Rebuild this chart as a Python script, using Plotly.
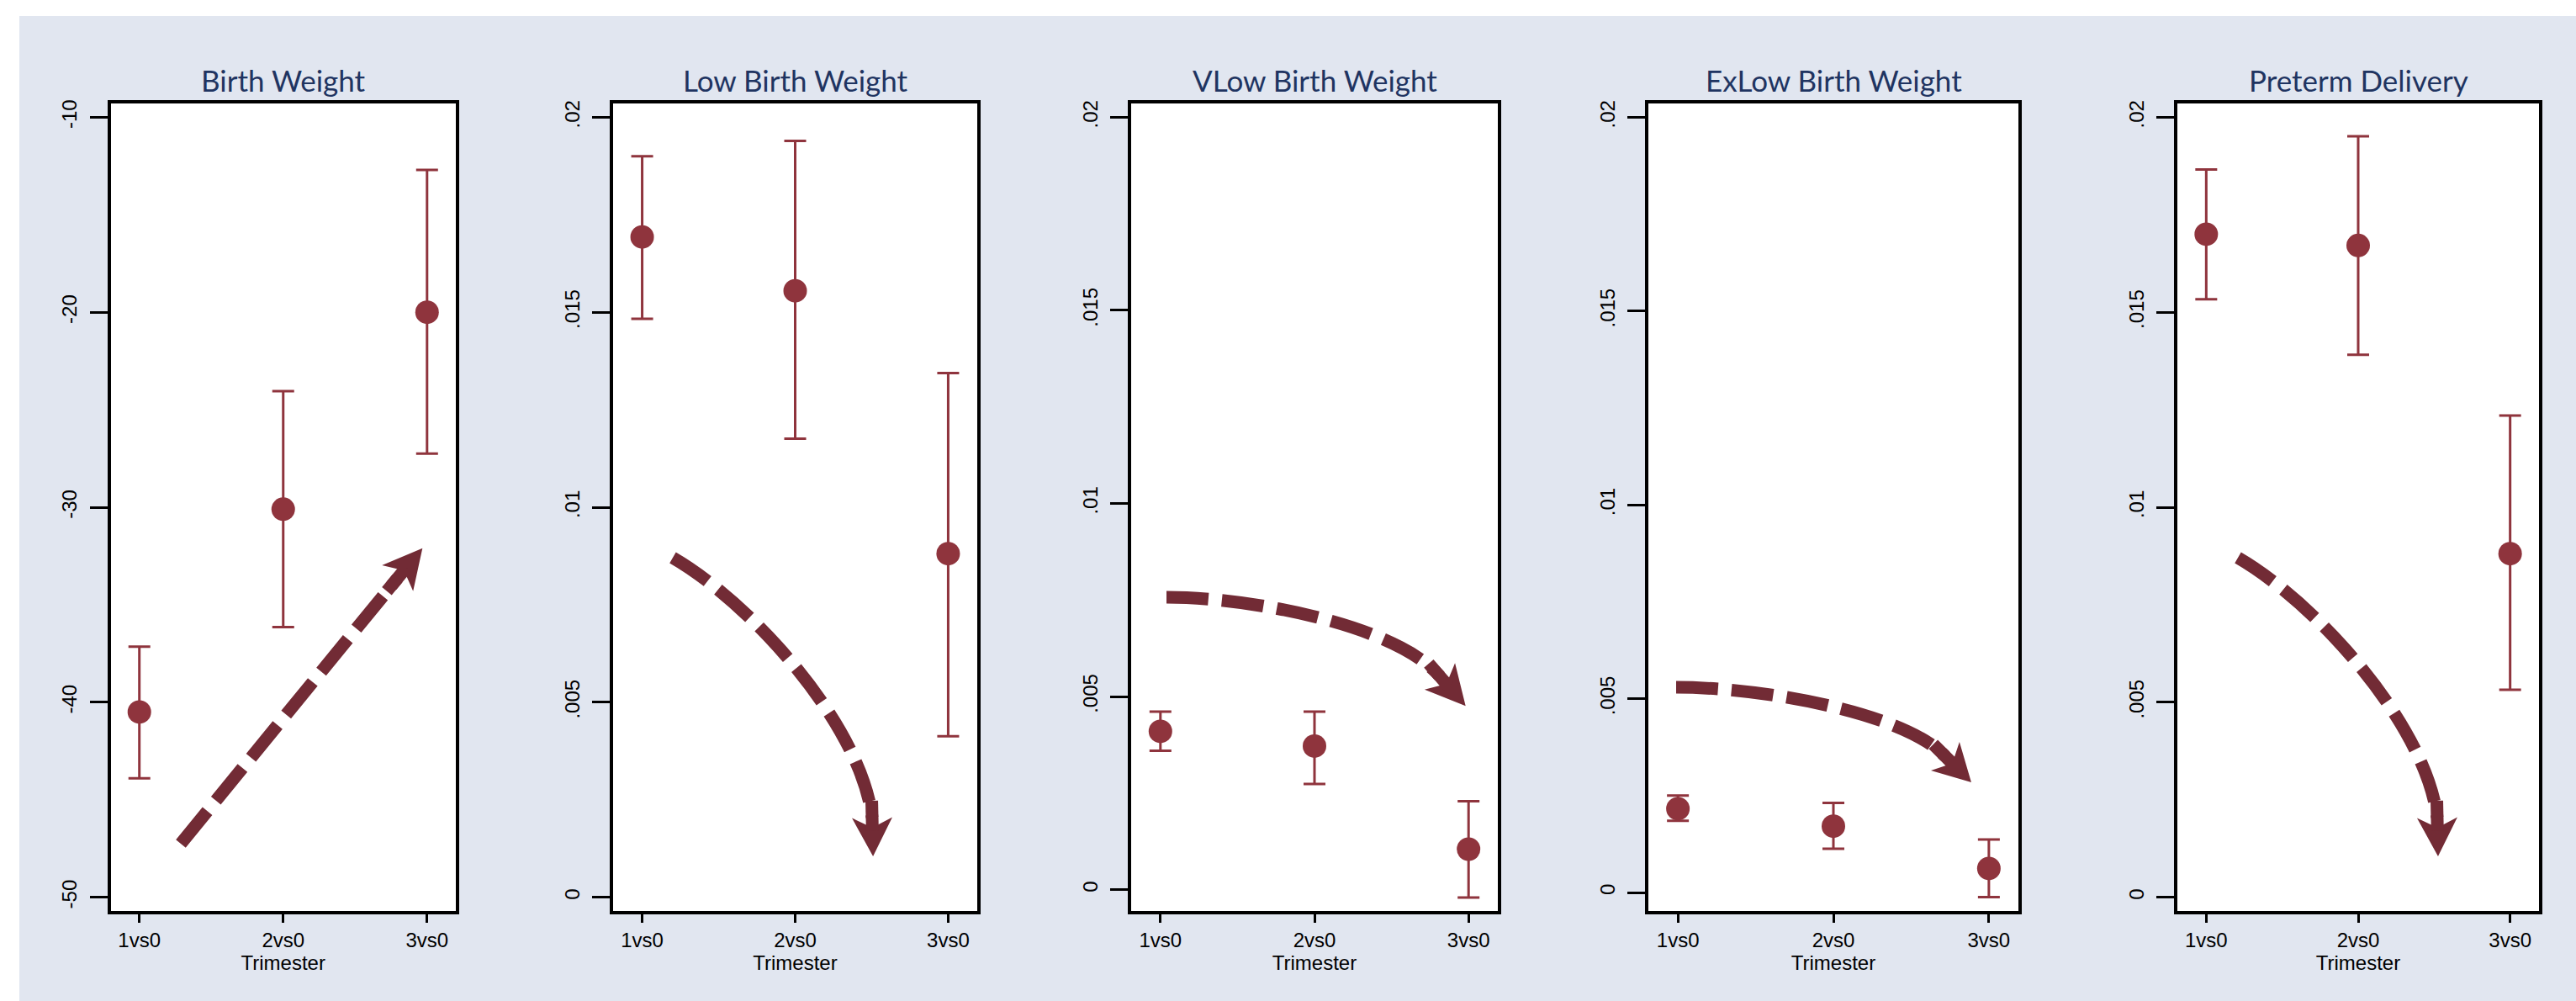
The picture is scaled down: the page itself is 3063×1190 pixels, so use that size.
import plotly.graph_objects as go

# ---------------- data ----------------
panel_titles = ["Birth Weight", "Low Birth Weight", "VLow Birth Weight",
                "ExLow Birth Weight", "Preterm Delivery"]
categories = ["1vs0", "2vs0", "3vs0"]
x_pos = [1, 2, 3]
x_title = "Trimester"

bw_est = [-40.5, -30.1, -20.0]
bw_lo = [-43.9, -36.15, -27.25]
bw_hi = [-37.15, -24.05, -12.7]

lbw_est = [0.01693, 0.01555, 0.00881]
lbw_lo = [0.01483, 0.01176, 0.00413]
lbw_hi = [0.0190, 0.01939, 0.01344]

vlbw_est = [0.0041, 0.00372, 0.00105]
vlbw_lo = [0.0036, 0.00274, -0.0002]
vlbw_hi = [0.00461, 0.00461, 0.00229]

exlbw_est = [0.00216, 0.00171, 0.00062]
exlbw_lo = [0.00185, 0.00113, -0.00012]
exlbw_hi = [0.0025, 0.00231, 0.00137]

ptd_est = [0.0170, 0.01671, 0.00881]
ptd_lo = [0.01533, 0.01391, 0.00532]
ptd_hi = [0.01866, 0.01951, 0.01235]

bw_tick_vals = [-50, -40, -30, -20, -10]
bw_tick_text = ["-50", "-40", "-30", "-20", "-10"]
rate_tick_vals = [0, 0.005, 0.01, 0.015, 0.02]
rate_tick_text = ["0", ".005", ".01", ".015", ".02"]

# trend arrows (data units of each panel): shaft points, then arrow tip
arrow_paths = [
    [(1.288, -47.25), (2.795, -33.64)],
    [(1.200, 0.008706), (1.7226, 0.00752), (2.4318, 0.004393), (2.503, 0.002043)],
    [(1.0393, 0.007572), (1.5851, 0.007572), (2.5294, 0.006853), (2.8133, 0.005525)],
    [(0.9885, 0.005295), (1.5239, 0.005295), (2.4433, 0.004666), (2.7191, 0.003515)],
    [(1.2085, 0.008706), (1.7342, 0.00752), (2.448, 0.004393), (2.520, 0.002043)],
]
arrow_tips = [(2.968, -32.10), (2.509, 0.001051), (2.9809, 0.004756),
              (2.8868, 0.002843), (2.5256, 0.001051)]

series = [
    (bw_est, bw_lo, bw_hi, bw_tick_vals, bw_tick_text),
    (lbw_est, lbw_lo, lbw_hi, rate_tick_vals, rate_tick_text),
    (vlbw_est, vlbw_lo, vlbw_hi, rate_tick_vals, rate_tick_text),
    (exlbw_est, exlbw_lo, exlbw_hi, rate_tick_vals, rate_tick_text),
    (ptd_est, ptd_lo, ptd_hi, rate_tick_vals, rate_tick_text),
]

# ---------------- layout constants ----------------
W, H = 3063, 1190
frames_px = [(131.5, 542), (729, 1162), (1345, 1781), (1960, 2400), (2589, 3019)]
top_px, bottom_px = 123, 1083
x_ranges = [[0.8, 3.2], [0.81, 3.19], [0.81, 3.19], [0.81, 3.19], [0.81, 3.19]]
y_ranges = [[-50.703, -9.297], [-0.000352, 0.020352], [-0.000551, 0.020355],
            [-0.000477, 0.020354], [-0.000352, 0.020352]]

MARKER = "#8f343d"
ARROW = "#722b35"
BG = "#e1e6f0"
TITLE_C = "#1f3461"
FONT = "Liberation Sans, Arial, sans-serif"

fig = go.Figure()


def to_px(i, x, y):
    l, r = frames_px[i]
    x0, x1 = x_ranges[i]
    y0, y1 = y_ranges[i]
    px = l + (x - x0) / (x1 - x0) * (r - l)
    py = bottom_px - (y - y0) / (y1 - y0) * (bottom_px - top_px)
    return px, py


def to_data(i, px, py):
    l, r = frames_px[i]
    x0, x1 = x_ranges[i]
    y0, y1 = y_ranges[i]
    x = x0 + (px - l) / (r - l) * (x1 - x0)
    y = y0 + (bottom_px - py) / (bottom_px - top_px) * (y1 - y0)
    return x, y


shapes = []
annotations = []
for i, (est, lo, hi, tv, tt) in enumerate(series):
    n = i + 1
    xa = "x" if n == 1 else f"x{n}"
    ya = "y" if n == 1 else f"y{n}"
    fig.add_trace(go.Scatter(
        x=x_pos, y=est, mode="markers", xaxis=xa, yaxis=ya,
        marker=dict(size=28, color=MARKER, line=dict(width=0)),
        error_y=dict(type="data", symmetric=False,
                     array=[h - e for h, e in zip(hi, est)],
                     arrayminus=[e - l_ for e, l_ in zip(est, lo)],
                     color=MARKER, thickness=3, width=13),
        showlegend=False, hoverinfo="skip"))

    l, r = frames_px[i]
    axis_common = dict(showline=True, linecolor="black", linewidth=3.5, mirror=True,
                       showgrid=False, zeroline=False, ticks="outside",
                       tickcolor="black", tickwidth=3, automargin=False,
                       tickfont=dict(family=FONT, size=24, color="black"))
    fig.layout[f"xaxis{'' if n == 1 else n}"] = dict(
        domain=[l / W, r / W], range=x_ranges[i], anchor=ya,
        tickmode="array", tickvals=x_pos, ticktext=categories, ticklen=10,
        title=dict(text=x_title, font=dict(family=FONT, size=24, color="black"), standoff=2),
        **axis_common)
    fig.layout[f"yaxis{'' if n == 1 else n}"] = dict(
        domain=[1 - bottom_px / H, 1 - top_px / H], range=y_ranges[i], anchor=xa,
        tickmode="array", tickvals=tv, ticktext=tt, tickangle=-90, ticklen=21,
        ticklabelstandoff=6, **axis_common)

    annotations.append(dict(text=panel_titles[i], xref="paper", yref="paper",
                            x=(l + r) / 2 / W, y=1 - 95 / H, xanchor="center",
                            yanchor="middle", showarrow=False,
                            font=dict(family="Lato, Liberation Sans, sans-serif",
                                      size=35, color=TITLE_C)))

    # trend arrow shaft (dashed)
    pts = arrow_paths[i]
    if len(pts) == 2:
        path = f"M {pts[0][0]},{pts[0][1]} L {pts[1][0]},{pts[1][1]}"
    else:
        path = (f"M {pts[0][0]},{pts[0][1]} C {pts[1][0]},{pts[1][1]} "
                f"{pts[2][0]},{pts[2][1]} {pts[3][0]},{pts[3][1]}")
    shapes.append(dict(type="path", path=path, xref=xa, yref=ya,
                       line=dict(color=ARROW, width=15, dash="50px,16px")))
    # arrow head (barbed) plus a solid stub joining it to the shaft
    bx, by = to_px(i, *pts[-1])
    tx, ty = to_px(i, *arrow_tips[i])
    dx, dy = tx - bx, ty - by
    length = (dx ** 2 + dy ** 2) ** 0.5
    ux, uy = dx / length, dy / length
    nx, ny = -uy, ux
    half = 24
    poly_px = [(tx, ty), (bx + nx * half, by + ny * half),
               (bx + ux * 12, by + uy * 12), (bx - nx * half, by - ny * half)]
    poly = [to_data(i, px, py) for px, py in poly_px]
    hp = "M " + " L ".join(f"{a},{b}" for a, b in poly) + " Z"
    shapes.append(dict(type="path", path=hp, xref=xa, yref=ya,
                       fillcolor=ARROW, line=dict(width=0)))
    s0 = to_data(i, bx - ux * 20, by - uy * 20)
    s1 = to_data(i, bx + ux * 16, by + uy * 16)
    shapes.append(dict(type="line", x0=s0[0], y0=s0[1], x1=s1[0], y1=s1[1],
                       xref=xa, yref=ya, line=dict(color=ARROW, width=15)))

# white strips around the light-blue panel
shapes.append(dict(type="rect", xref="paper", yref="paper", x0=0, x1=1,
                   y0=1 - 19 / H, y1=1, fillcolor="white", line=dict(width=0), layer="below"))
shapes.append(dict(type="rect", xref="paper", yref="paper", x0=0, x1=23 / W,
                   y0=0, y1=1, fillcolor="white", line=dict(width=0), layer="below"))

fig.update_layout(
    width=W, height=H, margin=dict(l=0, r=0, t=0, b=0, autoexpand=False),
    paper_bgcolor=BG, plot_bgcolor="white",
    font=dict(family=FONT, size=24, color="black"),
    shapes=shapes, annotations=annotations, showlegend=False)

fig.write_html("out.html", include_plotlyjs=True, config={"displayModeBar": False},
               post_script="document.body.style.margin='0px';document.body.style.overflow='hidden';")
